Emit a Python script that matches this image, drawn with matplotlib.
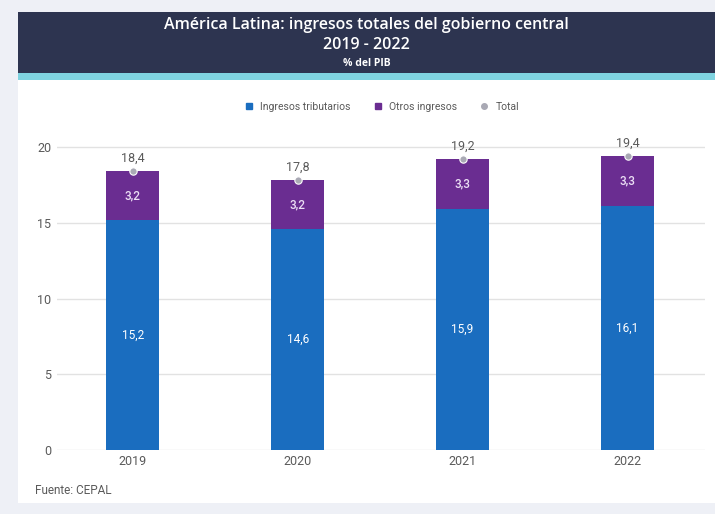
import matplotlib.pyplot as plt
import numpy as np
from matplotlib.patches import Rectangle
from matplotlib.lines import Line2D

plt.rcParams['font.family'] = ['Roboto', 'DejaVu Sans']

# Data
years = ['2019', '2020', '2021', '2022']
tributarios = [15.2, 14.6, 15.9, 16.1]
otros = [3.2, 3.2, 3.3, 3.3]
total = [18.4, 17.8, 19.2, 19.4]

# Colours
blue = '#1a6dbf'
purple = '#6a2d91'
navy = '#2d3450'
teal = '#7fd3e0'
gray_txt = '#5a5a5a'

fig = plt.figure(figsize=(7.15, 5.14), dpi=100)
fig.patch.set_facecolor('#eef0f6')

# white card and title banner
fig.patches.append(Rectangle((18 / 715, 1 - 503 / 514), 697 / 715, 491 / 514,
                             transform=fig.transFigure, facecolor='white',
                             edgecolor='none', zorder=0))
fig.patches.append(Rectangle((18 / 715, 1 - 73 / 514), 697 / 715, 61 / 514,
                             transform=fig.transFigure, facecolor=navy,
                             edgecolor='none', zorder=1))
fig.patches.append(Rectangle((18 / 715, 1 - 80 / 514), 697 / 715, 7 / 514,
                             transform=fig.transFigure, facecolor=teal,
                             edgecolor='none', zorder=1))

title_font = ['Open Sans', 'DejaVu Sans']
fig.text(0.513, 1 - 25 / 514, 'América Latina: ingresos totales del gobierno central',
         ha='center', va='center', color='white', fontsize=11.5, fontweight='semibold',
         family=title_font)
fig.text(0.513, 1 - 45 / 514, '2019 - 2022', ha='center', va='center',
         color='white', fontsize=11.5, fontweight='semibold', family=title_font)
fig.text(0.513, 1 - 63 / 514, '% del PIB', ha='center', va='center',
         color='white', fontsize=7.5, fontweight='bold', family=title_font)

ax = fig.add_axes([57 / 715, 1 - 450 / 514, 648 / 715, 312 / 514])
ax.set_zorder(2)
ax.set_facecolor('none')
x = np.arange(len(years))
w = 0.32

ax.bar(x, tributarios, w, color=blue, zorder=3)
ax.bar(x, otros, w, bottom=tributarios, color=purple, zorder=3)
ax.scatter(x, total, s=28, color='#a9a9b4', edgecolor='white', linewidth=0.8, zorder=5)

for i in range(len(years)):
    ax.text(x[i], tributarios[i] / 2, f'{tributarios[i]:.1f}'.replace('.', ','),
            ha='center', va='center', color='white', fontsize=8.5, zorder=6)
    ax.text(x[i], tributarios[i] + otros[i] / 2, f'{otros[i]:.1f}'.replace('.', ','),
            ha='center', va='center', color='#ecdff5', fontsize=8.5,
            fontweight='medium', zorder=6)
    ax.text(x[i], total[i] + 0.45, f'{total[i]:.1f}'.replace('.', ','),
            ha='center', va='bottom', color=gray_txt, fontsize=9, zorder=6)

ax.set_xlim(-0.46, 3.47)
ax.set_ylim(0, 20.6)
ax.set_yticks([0, 5, 10, 15, 20])
ax.set_xticks(x)
ax.set_xticklabels(years)
ax.tick_params(axis='both', length=0, colors=gray_txt, labelsize=9)
ax.tick_params(axis='y', pad=4)
ax.grid(axis='y', color='#e2e2e2', linewidth=1, zorder=0)
for s in ax.spines.values():
    s.set_visible(False)

handles = [
    Line2D([], [], marker='s', linestyle='none', color=blue, markersize=4),
    Line2D([], [], marker='s', linestyle='none', color=purple, markersize=4),
    Line2D([], [], marker='o', linestyle='none', color='#a9a9b4', markersize=4),
]
fig.legend(handles, ['Ingresos tributarios', 'Otros ingresos', 'Total'],
           loc='center', bbox_to_anchor=(0.53, 1 - 107 / 514), ncol=3,
           frameon=False, fontsize=7.5, handletextpad=0.1, columnspacing=1.6,
           labelcolor=gray_txt)

fig.text(35 / 715, 1 - 490 / 514, 'Fuente: CEPAL', ha='left', va='center',
         color=gray_txt, fontsize=8.5)

plt.savefig('out.png', dpi=100, facecolor=fig.get_facecolor())
